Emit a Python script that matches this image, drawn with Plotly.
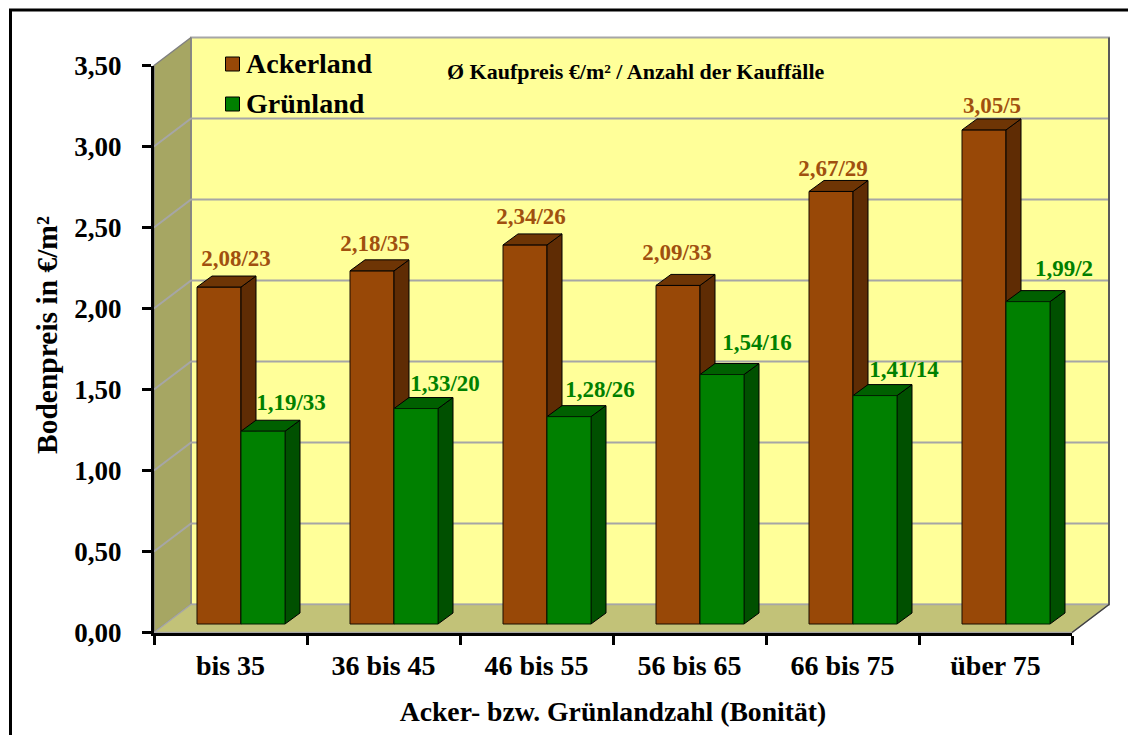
import plotly.graph_objects as go

# ---------- data ----------
categories = ["bis 35", "36 bis 45", "46 bis 55", "56 bis 65", "66 bis 75", "über 75"]
ackerland_price = [2.08, 2.18, 2.34, 2.09, 2.67, 3.05]
ackerland_count = [23, 35, 26, 33, 29, 5]
gruenland_price = [1.19, 1.33, 1.28, 1.54, 1.41, 1.99]
gruenland_count = [33, 20, 26, 16, 14, 2]
y_ticks = [0, 0.5, 1, 1.5, 2, 2.5, 3, 3.5]

# ---------- layout constants (pixels) ----------
W, H = 1128, 735
X0, X1 = 154, 1072        # x axis ends
Y0, YT = 632.5, 65.5      # y axis: value 0 and 3.5
CAT_PX = (X1 - X0) / len(categories)
VAL_PX = (Y0 - YT) / 3.5
px = lambda p: p / CAT_PX   # horizontal pixels -> category units
py = lambda p: p / VAL_PX   # vertical pixels -> value units

WALL_DX, WALL_DY = px(37), py(28)
BAR_W = px(44)
BAR_LEFT = px(43)
BAR_BASE = py(8.5)
SIDE_DX, SIDE_DY = px(15), py(11)
N = len(categories)

# label offsets relative to the front face centre / top of bar (pixels)
ack_lbl_dx = [17, 3, 6, -1, 2, 8]
ack_lbl_dy = [27, 26, 27, 31, 21, 23]
gr_lbl_dx = [28, 29, 31, 35, 29, 36]
gr_lbl_dy = [27, 23, 25, 30, 24, 31]

SERIF = "Liberation Serif"
BROWN, BROWN_SIDE, BROWN_TOP, BROWN_TXT = "#984807", "#5F2C04", "#6E3505", "#A0500F"
GREEN, GREEN_SIDE, GREEN_TOP, GREEN_TXT = "#008000", "#005000", "#006000", "#008000"
EDGE = "#1A0D00"

fig = go.Figure()


def poly(xs, ys, fill, line, width=1, axes=("x", "y")):
    return go.Scatter(x=xs, y=ys, mode="lines", fill="toself", fillcolor=fill,
                      line=dict(color=line, width=width), hoverinfo="skip",
                      showlegend=False, xaxis=axes[0], yaxis=axes[1])


ymax = y_ticks[-1]
# walls
fig.add_trace(poly([WALL_DX, N + WALL_DX, N + WALL_DX, WALL_DX, WALL_DX],
                   [WALL_DY, WALL_DY, ymax + WALL_DY, ymax + WALL_DY, WALL_DY],
                   "#FFFF99", "#A6A6A6", 2))
fig.add_trace(poly([0, WALL_DX, WALL_DX, 0, 0],
                   [0, WALL_DY, ymax + WALL_DY, ymax, 0], "#A6A663", "#808080", 1.5))
fig.add_trace(poly([0, WALL_DX, N + WALL_DX, N, 0],
                   [0, WALL_DY, WALL_DY, 0, 0], "#C2C278", "#A6A6A6", 1.5))
# grid lines
gx, gy = [], []
for t in y_ticks[1:-1]:
    gx += [0, WALL_DX, N + WALL_DX, None]
    gy += [t, t + WALL_DY, t + WALL_DY, None]
fig.add_trace(go.Scatter(x=gx, y=gy, mode="lines", line=dict(color="#A6A6A6", width=2),
                         hoverinfo="skip", showlegend=False, xaxis="x", yaxis="y"))
# right edge of wall
fig.add_trace(go.Scatter(x=[N, N + WALL_DX, N + WALL_DX], y=[0, WALL_DY, ymax + WALL_DY], mode="lines",
                         line=dict(color="#404040", width=1.5), hoverinfo="skip",
                         showlegend=False, xaxis="x", yaxis="y"))


def box_parts(values, left_off):
    sx, sy, tx, ty = [], [], [], []
    for i, v in enumerate(values):
        l = i + left_off
        r = l + BAR_W
        b = BAR_BASE
        t = BAR_BASE + v
        sx += [r, r + SIDE_DX, r + SIDE_DX, r, r, None]
        sy += [b, b + SIDE_DY, t + SIDE_DY, t, b, None]
        tx += [l, l + SIDE_DX, r + SIDE_DX, r, l, None]
        ty += [t, t + SIDE_DY, t + SIDE_DY, t, t, None]
    return sx, sy, tx, ty


# Ackerland (below) + 3D faces of both series
fig.add_trace(go.Bar(x=[i + BAR_LEFT + BAR_W / 2 for i in range(N)], y=ackerland_price,
                     base=BAR_BASE, width=BAR_W, marker=dict(color=BROWN, line=dict(color=EDGE, width=1)),
                     hoverinfo="skip", showlegend=False, xaxis="x2", yaxis="y2"))
sx, sy, tx, ty = box_parts(ackerland_price, BAR_LEFT)
fig.add_trace(poly(sx, sy, BROWN_SIDE, "#000000", 1, ("x2", "y2")))
fig.add_trace(poly(tx, ty, BROWN_TOP, "#000000", 1, ("x2", "y2")))
sx, sy, tx, ty = box_parts(gruenland_price, BAR_LEFT + BAR_W)
fig.add_trace(poly(sx, sy, GREEN_SIDE, "#000000", 1, ("x2", "y2")))
fig.add_trace(poly(tx, ty, GREEN_TOP, "#000000", 1, ("x2", "y2")))

# Grünland fronts
fig.add_trace(go.Bar(x=[i + BAR_LEFT + BAR_W * 1.5 for i in range(N)], y=gruenland_price,
                     base=BAR_BASE, width=BAR_W, marker=dict(color=GREEN, line=dict(color="#002000", width=1)),
                     hoverinfo="skip", showlegend=False, xaxis="x3", yaxis="y3"))


# value labels
def lbl(v, c):
    return f"{v:.2f}".replace(".", ",") + f"/{c}"


fig.add_trace(go.Scatter(
    x=[i + BAR_LEFT + BAR_W / 2 + px(d) for i, d in enumerate(ack_lbl_dx)],
    y=[BAR_BASE + v + py(d) for v, d in zip(ackerland_price, ack_lbl_dy)],
    mode="text", text=[lbl(v, c) for v, c in zip(ackerland_price, ackerland_count)],
    textfont=dict(family=SERIF, size=23, color=BROWN_TXT, weight="bold"), textposition="middle center",
    hoverinfo="skip", showlegend=False, xaxis="x4", yaxis="y4"))
fig.add_trace(go.Scatter(
    x=[i + BAR_LEFT + BAR_W * 1.5 + px(d) for i, d in enumerate(gr_lbl_dx)],
    y=[BAR_BASE + v + py(d) for v, d in zip(gruenland_price, gr_lbl_dy)],
    mode="text", text=[lbl(v, c) for v, c in zip(gruenland_price, gruenland_count)],
    textfont=dict(family=SERIF, size=23, color=GREEN_TXT, weight="bold"), textposition="middle center",
    hoverinfo="skip", showlegend=False, xaxis="x4", yaxis="y4"))

# hand-made legend
leg_x = px(225 + 7.5 - X0)
leg_text_x = px(246 - X0)
for name, col, y_px in [("Ackerland", BROWN, 64), ("Grünland", GREEN, 104)]:
    fig.add_trace(go.Scatter(
        x=[leg_x], y=[py(Y0 - y_px)], mode="markers",
        marker=dict(symbol="square", size=14, color=col, line=dict(color="#000000", width=1)),
        hoverinfo="skip", showlegend=False, xaxis="x4", yaxis="y4"))
    fig.add_trace(go.Scatter(
        x=[leg_text_x], y=[py(Y0 - y_px - 2)], mode="text", text=[name],
        textposition="middle right",
        textfont=dict(family=SERIF, size=28, color="#000000", weight="bold"),
        hoverinfo="skip", showlegend=False, xaxis="x4", yaxis="y4"))

# wide (invisible) axes, sharing the same scale as the visible ones
wide_x = dict(domain=[0, 1], range=[-X0 / CAT_PX, (W - X0) / CAT_PX], visible=False)
wide_y = dict(domain=[0, 1], range=[-(H - Y0) / VAL_PX, Y0 / VAL_PX], visible=False)

layout = dict(width=W, height=H, margin=dict(l=0, r=0, t=0, b=0, pad=0, autoexpand=False), paper_bgcolor="white",
              plot_bgcolor="rgba(0,0,0,0)", barmode="overlay", separators=",.", showlegend=False,
              font=dict(family=SERIF, color="#000000"))
for k in ["", "2", "3", "4"]:
    a = "y" + k
    b = "x" + k
    layout["xaxis" + k] = dict(wide_x, anchor=a)
    layout["yaxis" + k] = dict(wide_y, anchor=b)

axis_font = dict(family=SERIF, size=27, color="#000000", weight="bold")
layout["xaxis5"] = dict(
    domain=[X0 / W, X1 / W], anchor="y5", type="category", categoryorder="array",
    categoryarray=categories, tickvals=categories, range=[-0.5, N - 0.5], tickson="boundaries",
    ticks="outside", ticklen=9, tickwidth=3, tickcolor="#000000", showline=True, linewidth=3,
    linecolor="#000000", showgrid=False, zeroline=False, tickfont=dict(axis_font, size=28), ticklabelstandoff=6,
    title=dict(text="Acker- bzw. Grünlandzahl (Bonität)", font=dict(family=SERIF, size=27.7, color="#000000", weight="bold"), standoff=22),
)
layout["yaxis5"] = dict(
    domain=[(H - Y0) / H, (H - YT) / H], anchor="x5", range=[0, ymax], tickvals=y_ticks,
    tickformat=".2f", ticks="outside", ticklen=9, tickwidth=3, tickcolor="#000000", showline=True,
    linewidth=3, linecolor="#000000", showgrid=False, zeroline=False, tickfont=axis_font,
    ticklabelstandoff=15,
)
# tie a trace-less helper to the visible axes so they always render
fig.add_trace(go.Scatter(x=categories, y=[0] * N, mode="none", hoverinfo="skip", showlegend=False,
                         xaxis="x5", yaxis="y5"))

layout["annotations"] = [
    dict(text="Ø Kaufpreis €/m² / Anzahl der Kauffälle", xref="paper", yref="paper", showarrow=False,
         x=636 / W, y=(H - 72) / H, xanchor="center", yanchor="middle",
         font=dict(family=SERIF, size=22, color="#000000", weight="bold")),
    dict(text="Bodenpreis in €/m²", xref="paper", yref="paper", showarrow=False, textangle=-90,
         x=47 / W, y=(H - 335) / H, xanchor="center", yanchor="middle",
         font=dict(family=SERIF, size=29.5, color="#000000", weight="bold")),
]
layout["shapes"] = [
    dict(type="line", xref="paper", yref="paper", x0=10.5 / W, x1=10.5 / W, y0=0, y1=(H - 10) / H,
         line=dict(color="#000000", width=3)),
    dict(type="line", xref="paper", yref="paper", x0=9 / W, x1=1, y0=(H - 10) / H, y1=(H - 10) / H,
         line=dict(color="#000000", width=3)),
]
fig.update_layout(**layout)
fig.write_html("out.html", config={"displayModeBar": False},
               post_script="document.body.style.margin='0';document.body.style.overflow='hidden';")
